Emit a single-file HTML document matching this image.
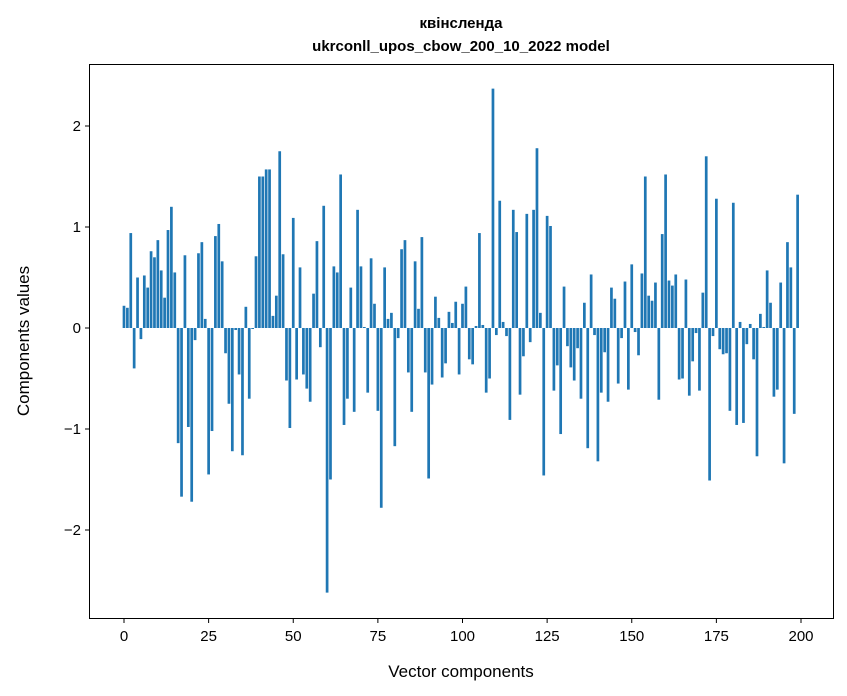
<!DOCTYPE html>
<html><head><meta charset="utf-8"><style>
body{margin:0;background:#fff}
svg{display:block;font-family:"Liberation Sans","DejaVu Sans",sans-serif}
</style></head><body>
<svg id="chart" width="847" height="696" viewBox="0 0 847 696" xmlns="http://www.w3.org/2000/svg">
<rect width="847" height="696" fill="#fff"/>
<text x="461" y="28" text-anchor="middle" font-size="15" font-weight="bold">квінсленда</text>
<text x="461" y="51" text-anchor="middle" font-size="15" font-weight="bold">ukrconll_upos_cbow_200_10_2022 model</text>
<g id="bars"></g>
<g id="xticks"></g>
<g id="yticks"></g>
<rect x="89.5" y="64.5" width="744" height="554" fill="none" stroke="#000" stroke-width="1"/>
<text x="461" y="677" text-anchor="middle" font-size="17">Vector components</text>
<text transform="translate(29,341) rotate(-90)" text-anchor="middle" font-size="17">Components values</text>
</svg>
<script>
const values = [0.22,0.20,0.94,-0.40,0.50,-0.11,0.52,0.40,0.76,0.70,0.87,0.57,0.30,0.97,1.20,0.55,-1.14,-1.67,0.72,-0.98,
-1.72,-0.12,0.74,0.85,0.09,-1.45,-1.02,0.91,1.03,0.66,-0.25,-0.75,-1.22,-0.02,-0.46,-1.26,0.21,-0.70,-0.01,0.71,
1.50,1.50,1.57,1.57,0.12,0.32,1.75,0.73,-0.52,-0.99,1.09,-0.51,0.60,-0.46,-0.60,-0.73,0.34,0.86,-0.19,1.21,
-2.62,-1.50,0.61,0.55,1.52,-0.96,-0.70,0.40,-0.83,1.17,0.61,0.01,-0.64,0.69,0.24,-0.82,-1.78,0.60,0.09,0.15,
-1.17,-0.10,0.78,0.87,-0.44,-0.83,0.66,0.19,0.90,-0.44,-1.49,-0.56,0.31,0.10,-0.49,-0.35,0.16,0.05,0.26,-0.46,
0.24,0.41,-0.31,-0.36,0.02,0.94,0.03,-0.64,-0.50,2.37,-0.07,1.26,0.06,-0.08,-0.91,1.17,0.95,-0.66,-0.28,1.13,
-0.14,1.17,1.78,0.15,-1.46,1.11,1.01,-0.62,-0.37,-1.05,0.41,-0.18,-0.39,-0.52,-0.20,-0.70,0.25,-1.19,0.53,-0.07,
-1.32,-0.64,-0.24,-0.73,0.40,0.29,-0.55,-0.10,0.46,-0.61,0.63,-0.04,-0.27,0.54,1.50,0.32,0.27,0.45,-0.71,0.93,
1.52,0.47,0.42,0.53,-0.51,-0.50,0.48,-0.67,-0.33,-0.05,-0.62,0.35,1.70,-1.51,-0.08,1.28,-0.21,-0.26,-0.25,-0.82,
1.24,-0.96,0.06,-0.94,-0.16,0.04,-0.31,-1.27,0.14,0.01,0.57,0.25,-0.68,-0.61,0.45,-1.34,0.85,0.60,-0.85,1.32];
const xTicks = [0,25,50,75,100,125,150,175,200];
const yTicks = [-2,-1,0,1,2];
const yTickLabels = ["\u22122","\u22121","0","1","2"];

const NS="http://www.w3.org/2000/svg";
const xScale = v => 124 + v*(801-124)/200;
const yScale = v => 328 - v*101;
const bw = 0.8*(801-124)/200;
const bars=document.getElementById('bars');
values.forEach((v,i)=>{
  const r=document.createElementNS(NS,'rect');
  
  
  const y0=yScale(0), y1=yScale(v);
  r.setAttribute('x',xScale(i)-bw/2);
  r.setAttribute('y',Math.min(y0,y1));
  r.setAttribute('width',bw);
  r.setAttribute('height',Math.abs(y1-y0));
  r.setAttribute('fill','#1f77b4');
  bars.appendChild(r);
});
const xg=document.getElementById('xticks');
xTicks.forEach(t=>{
  const x=xScale(t);
  const l=document.createElementNS(NS,'line');
  
  
  l.setAttribute('x1',x);l.setAttribute('x2',x);l.setAttribute('y1',618.5);l.setAttribute('y2',623);
  l.setAttribute('stroke','#000');
  xg.appendChild(l);
  const tx=document.createElementNS(NS,'text');
  
  
  tx.setAttribute('x',x);tx.setAttribute('y',641);
  tx.setAttribute('text-anchor','middle');tx.setAttribute('font-size','15');
  tx.textContent=t;
  xg.appendChild(tx);
});
const yg=document.getElementById('yticks');
yTicks.forEach((t,i)=>{
  const y=yScale(t);
  const l=document.createElementNS(NS,'line');
  
  
  l.setAttribute('x1',85);l.setAttribute('x2',89.5);l.setAttribute('y1',y);l.setAttribute('y2',y);
  l.setAttribute('stroke','#000');
  yg.appendChild(l);
  const tx=document.createElementNS(NS,'text');
  
  
  tx.setAttribute('x',81);tx.setAttribute('y',y+5);
  tx.setAttribute('text-anchor','end');tx.setAttribute('font-size','15');
  tx.textContent=yTickLabels[i];
  yg.appendChild(tx);
});
</script>
</body></html>
